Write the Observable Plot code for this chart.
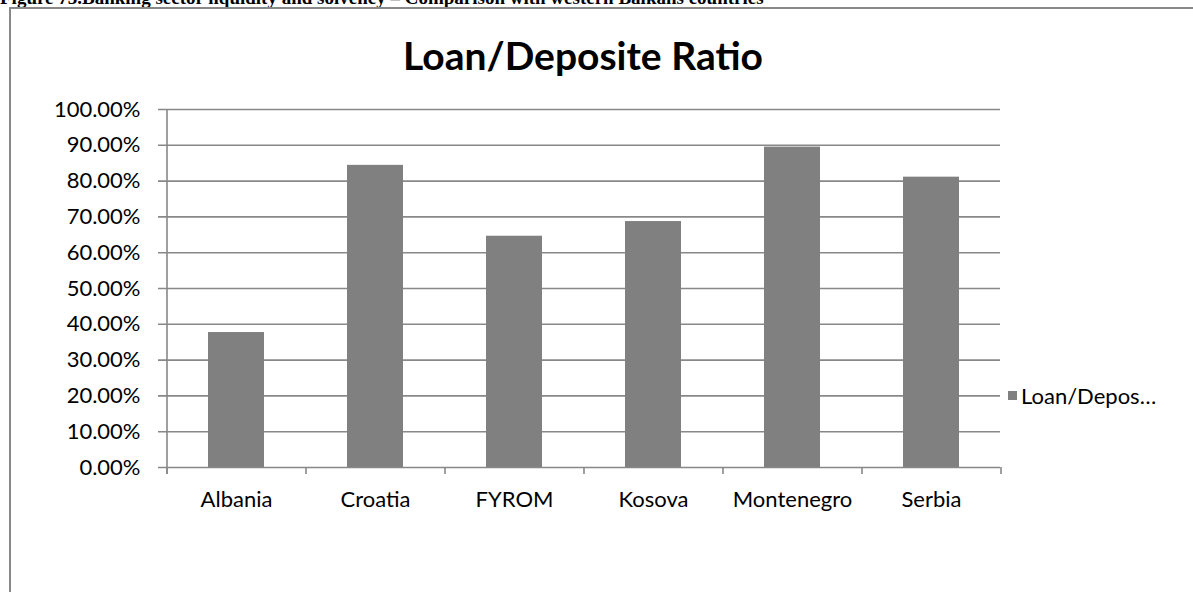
<!DOCTYPE html>
<html>
<head>
<meta charset="utf-8">
<script src="https://cdn.jsdelivr.net/npm/d3@7"></script>
<script src="https://cdn.jsdelivr.net/npm/@observablehq/plot@0.6"></script>
<style>
  html, body { margin: 0; padding: 0; background: #fff; }
  body { width: 1193px; height: 592px; overflow: hidden; position: relative; font-family: Lato, "Open Sans", sans-serif; }
  #caption { position: absolute; left: 0; top: -13px; font: bold 19px "Liberation Serif", "Times New Roman", serif; white-space: nowrap; color: #000; }
  #box { position: absolute; left: 9px; top: 7px; width: 1300px; height: 700px; border: 2px solid #888; box-sizing: border-box; }
  #chart { position: absolute; left: 0; top: 0; }
  #title { position: absolute; left: 166px; width: 834px; top: 32px; text-align: center; font: bold 39px Lato, sans-serif; color: #000; white-space: nowrap; }
  #legend { position: absolute; left: 1008px; top: 382px; font: 22px Lato, sans-serif; color: #000; display: flex; align-items: center; white-space: nowrap; }
  #legend .sw { width: 9px; height: 9px; background: #808080; margin-right: 4px; }
</style>
</head>
<body>
<div id="caption">Figure 73.Banking sector liquidity and solvency – Comparison with western Balkans countries</div>
<div id="box"></div>
<div id="chart"></div>
<div id="title">Loan/Deposite Ratio</div>
<div id="legend"><span class="sw"></span><span>Loan/Depos…</span></div>
<script>
const categories = ["Albania", "Croatia", "FYROM", "Kosova", "Montenegro", "Serbia"];
const values = [0.377, 0.844, 0.646, 0.687, 0.895, 0.811];
const yTicks = [0, 0.1, 0.2, 0.3, 0.4, 0.5, 0.6, 0.7, 0.8, 0.9, 1.0];

const data = categories.map((c, i) => ({country: c, value: values[i]}));

const W = 1193, H = 592, mL = 166, mR = 193, mT = 109, mB = 125;
const step = (W - mL - mR) / categories.length;
const gridColor = "#888888";

const chart = Plot.plot({
  width: W,
  height: H,
  marginLeft: mL,
  marginRight: mR,
  marginTop: mT,
  marginBottom: mB,
  style: {fontFamily: "Lato, sans-serif", fontSize: "22px", color: "#000", background: "transparent"},
  x: {domain: categories, paddingInner: 0.6, paddingOuter: 0.3, label: null},
  y: {domain: [0, 1], label: null},
  marks: [
    Plot.ruleY(yTicks, {stroke: gridColor, strokeWidth: 1.6, insetLeft: -8}),
    Plot.ruleX(categories, {x: d => d, dx: -step / 2, y1: 0, y2: 0, insetBottom: -7, stroke: gridColor, strokeWidth: 1.6}),
    Plot.ruleX([categories[categories.length - 1]], {x: d => d, dx: step / 2, y1: 0, y2: 0, insetBottom: -7, stroke: gridColor, strokeWidth: 1.6}),
    Plot.ruleX([categories[0]], {x: d => d, dx: -step / 2, y1: 1, y2: 0, insetBottom: -7, stroke: gridColor, strokeWidth: 1.6}),
    Plot.barY(data, {x: "country", y: "value", fill: "#808080"}),
    Plot.axisY({ticks: yTicks, tickSize: 0, tickPadding: 26, tickFormat: d => (d * 100).toFixed(2) + "%", fontSize: 22, label: null}),
    Plot.axisX({tickSize: 0, tickPadding: 24, fontSize: 22, label: null})
  ]
});
document.getElementById("chart").appendChild(chart);
</script>
</body>
</html>
